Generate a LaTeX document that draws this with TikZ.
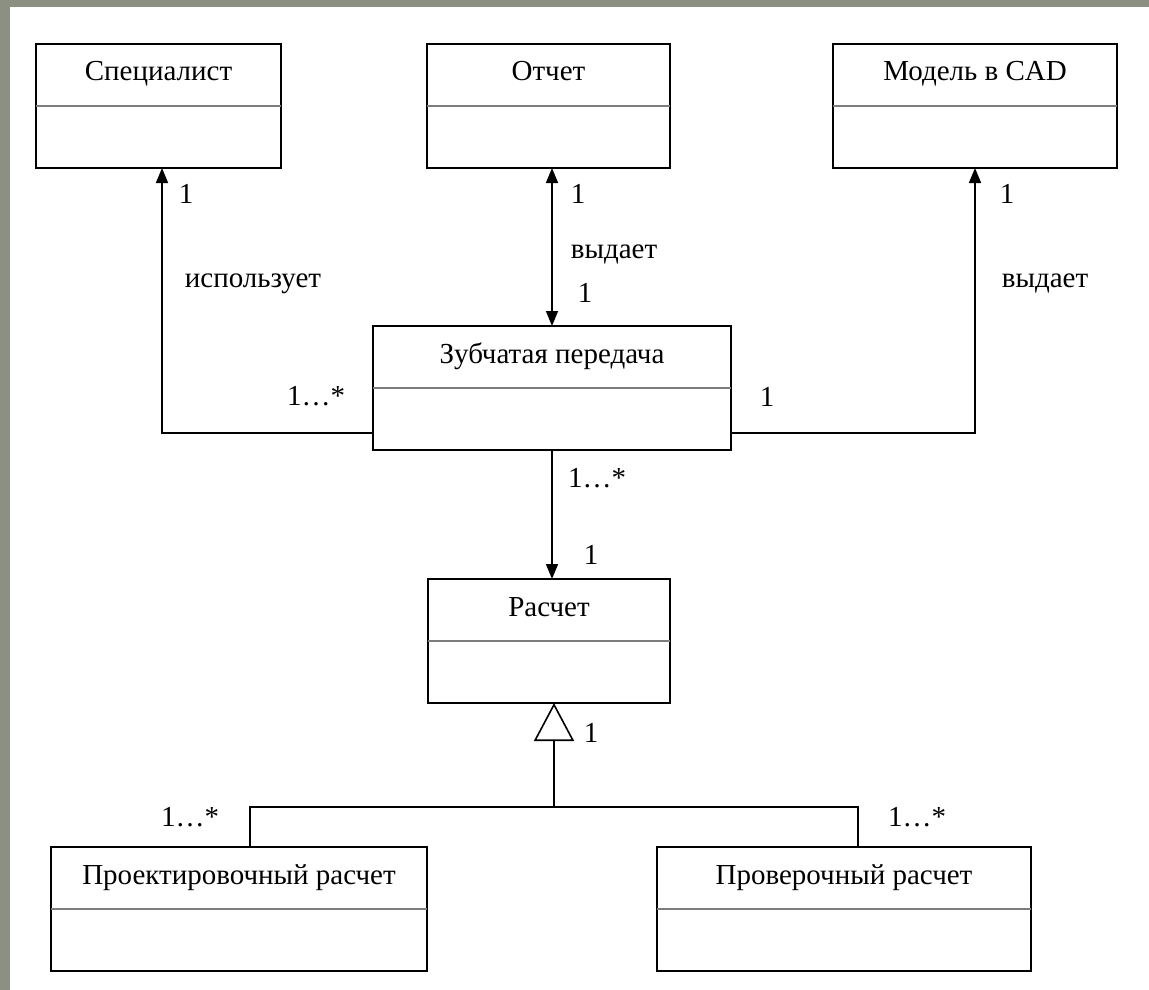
\documentclass[tikz,border=0pt]{standalone}
\usepackage{fontspec}
\setmainfont{Liberation Serif}
\usetikzlibrary{arrows.meta}
\definecolor{bggray}{RGB}{140,144,130}
\definecolor{divgray}{RGB}{125,125,125}
\newcommand\umlbox[5]{% name, left, top, right, title
  \node[umlbox, minimum width={(#4-#2)*1pt}] (#1) at ({(#2+#4)/2},{#3+62}) {};
  \node[title] (#1-t) at ({(#2+#4)/2},{#3+37}) {#5};
  \draw[divider] (#1.west |- 0,{#3+62}) -- (#1.east |- 0,{#3+62});
}
\begin{document}
\begin{tikzpicture}[x=1pt,y=-1pt,
  umlbox/.style={draw, line width=1.6pt, minimum height=124pt, inner sep=0pt, outer sep=0pt},
  title/.style={font=\fontsize{29}{34}\selectfont, inner sep=0pt, anchor=base},
  lbl/.style={font=\fontsize{29}{34}\selectfont, inner sep=0pt},
  divider/.style={draw=divgray, line width=2.6pt},
  conn/.style={line width=1.6pt},
  assoc/.style={conn, -{Triangle[length=15pt,width=12pt]}},
  both/.style={conn, {Triangle[length=15pt,width=12pt]}-{Triangle[length=15pt,width=12pt]}},
  gen/.style={conn, -{Triangle[open, length=38pt, width=40pt]}}
]
\fill[bggray] (0,0) rectangle (1149,990);
\fill[white] (10,7) rectangle (1149,990);
\useasboundingbox (0,0) rectangle (1149,990);

\umlbox{spec}{36}{44}{281}{Специалист}
\umlbox{otchet}{427}{44}{670}{Отчет}
\umlbox{cad}{833}{44}{1117}{Модель в CAD}
\umlbox{zub}{373}{326}{731}{Зубчатая передача}
\umlbox{raschet}{428}{579}{670}{Расчет}
\umlbox{proekt}{51}{847}{427}{Проектировочный расчет}
\umlbox{prover}{657}{847}{1031}{Проверочный расчет}

% associations
\draw[assoc] (zub.west |- 0,433) -| (spec.south -| 162,0);
\draw[assoc] (zub.east |- 0,433) -| (cad.south -| 975,0);
\draw[both] (otchet.south -| 552,0) -- (zub.north -| 552,0);
\draw[assoc] (zub.south -| 552,0) -- (raschet.north -| 552,0);

% generalization
\coordinate (bar) at (554,807);
\draw[gen] (bar) -- (raschet.south -| 554,0);
\draw[conn] (proekt.north -| 250,0) |- (bar) -| (prover.north -| 858,0);

% labels
\node[lbl] (l1) at (186,194) {1};
\node[lbl] (l2) at (253,284) {использует};
\node[lbl] (l3) at (316,396) {1…*};
\node[lbl] (l4) at (578,194) {1};
\node[lbl] (l5) at (614,254) {выдает};
\node[lbl] (l6) at (585,293) {1};
\node[lbl] (l7) at (1007,194) {1};
\node[lbl] (l8) at (1045,283) {выдает};
\node[lbl] (l9) at (767,397) {1};
\node[lbl] (l10) at (597,478) {1…*};
\node[lbl] (l11) at (591,555) {1};
\node[lbl] (l12) at (591,733) {1};
\node[lbl] (l13) at (190,817) {1…*};
\node[lbl] (l14) at (917,817) {1…*};
\end{tikzpicture}
\end{document}
